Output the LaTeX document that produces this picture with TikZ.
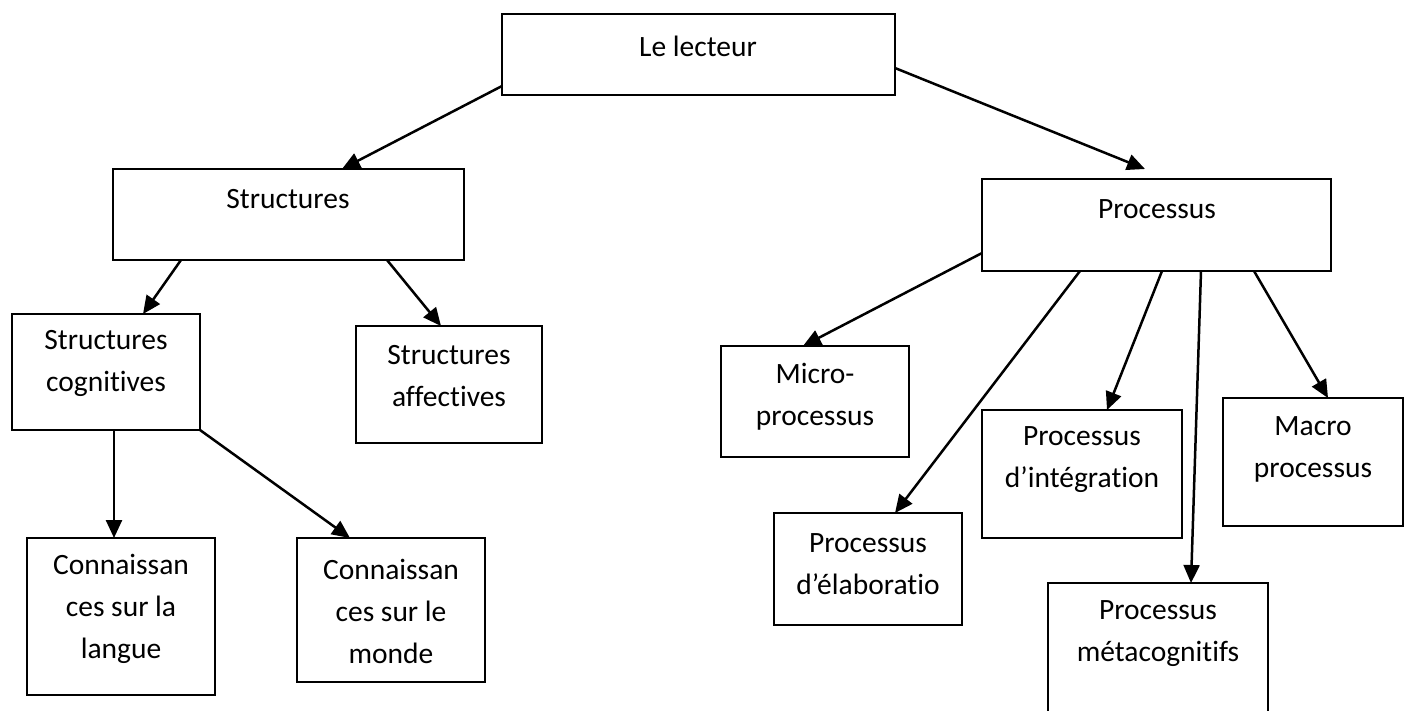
\documentclass[tikz,border=0pt]{standalone}
\usepackage{fontspec}
\setmainfont{Carlito}[Ligatures=NoCommon]
\usetikzlibrary{arrows.meta}

\tikzset{
  box/.style={draw=black, line width=2pt, rectangle, inner sep=0pt, outer sep=0pt, fill=white},
  lbl/.style={align=center, inner sep=0pt, font=\fontsize{29.5}{42}\selectfont},
  link/.style={line width=2.5pt, -{Triangle[length=18pt,width=16pt]}},
}

% box given by its corners (x1,y1) and (x2,y2), y measured downwards
\newcommand{\boxat}[5]{%
  \node[box, minimum width={(#4)-(#2)}, minimum height={(#5)-(#3)}]
    (#1) at ({((#2)+(#4))/2},{((#3)+(#5))/2}) {};}

\begin{document}
\begin{tikzpicture}[x=1pt, y=-1pt]
\useasboundingbox (0,0) rectangle (1405,710);
\fill[white] (0,0) rectangle (1405,710);

% boxes
\boxat{lect}{502}{14}{895}{95}
\boxat{struct}{113}{169}{464}{260}
\boxat{proc}{982}{179}{1331}{271}
\boxat{cogn}{12}{314}{200}{430}
\boxat{affe}{356}{326}{542}{443}
\boxat{micro}{721}{346}{909}{457}
\boxat{elab}{774}{513}{962}{625}
\boxat{integ}{982}{410}{1182}{538}
\boxat{macro}{1223}{398}{1403}{526}
\boxat{meta}{1048}{583}{1268}{730}
\boxat{lang}{27}{538}{215}{695}
\boxat{monde}{297}{538}{485}{682}

% texts
\node[lbl] (lect-t)   at (698,46)    {Le lecteur};
\node[lbl] (struct-t) at (288,199)   {Structures};
\node[lbl] (proc-t)   at (1157,209)  {Processus};
\node[lbl] (cogn-t)   at (106,363)   {Structures\\cognitives};
\node[lbl] (affe-t)   at (449,376.5) {Structures\\affectives};
\node[lbl] (micro-t)  at (815,396.5) {Micro-\\processus};
\node[lbl] (elab-t)   at (868,564)   {Processus\\d’élaboratio};
\node[lbl] (integ-t)  at (1082,460)  {Processus\\d’intégration};
\node[lbl] (macro-t)  at (1313,449)  {Macro\\processus};
\node[lbl] (meta-t)   at (1158,634)  {Processus\\métacognitifs};
\node[lbl] (lang-t)   at (121,609)   {Connaissan\\ces sur la\\langue};
\node[lbl] (monde-t)  at (391,611)   {Connaissan\\ces sur le\\monde};

% end point just above the Processus box
\coordinate (proc-in) at (1145,169);

% connectors
\draw[link] (lect.west |- 0,86) -- (342,0 |- struct.north);
\draw[link] (lect.east |- 0,68) -- (proc-in);
\draw[link] (181,0 |- struct.south) -- (143,0 |- cogn.north);
\draw[link] (387,0 |- struct.south) -- (441,0 |- affe.north);
\draw[link] (114,0 |- cogn.south) -- (114,0 |- lang.north);
\draw[link] (cogn.south east) -- (350,0 |- monde.north);
\draw[link] (proc.west |- 0,253) -- (803,0 |- micro.north);
\draw[link] (1080,0 |- proc.south) -- (895,0 |- elab.north);
\draw[link] (1162,0 |- proc.south) -- (1107,0 |- integ.north);
\draw[link] (1201,0 |- proc.south) -- (1191,0 |- meta.north);
\draw[link] (1254,0 |- proc.south) -- (1328,0 |- macro.north);
\end{tikzpicture}
\end{document}
